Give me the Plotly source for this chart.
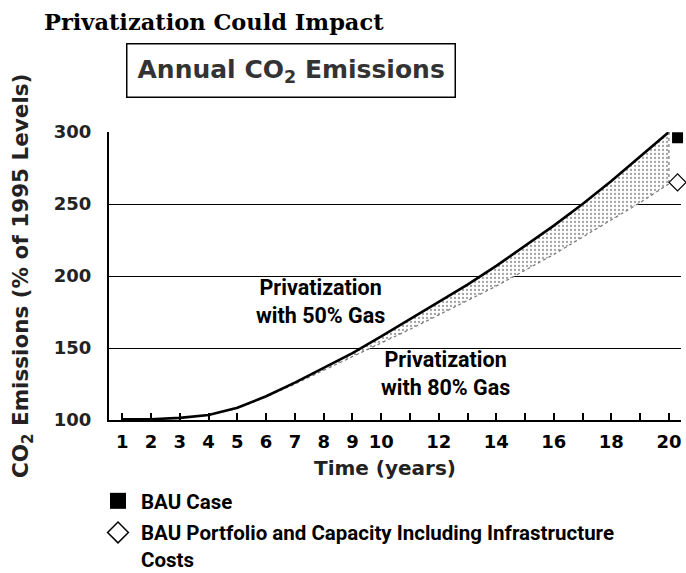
import plotly.graph_objects as go

# ---- data ----
years = list(range(1, 21))
priv_50_gas = [100.5, 100.5, 101.5, 103.5, 108.5, 116.5, 126, 136, 146.5, 158,
               170, 182, 194, 207, 221, 235, 250, 266, 283, 300]
priv_80_gas = [100.5, 100.5, 101.5, 103.5, 108, 116, 125, 134.5, 144, 153,
               163, 173, 183, 193, 204, 215, 227, 239, 251, 264]
bau_x = [20.3]
bau_case = [296]
bau_portfolio = [265]
x_tick_vals = years
x_tick_text = ["1", "2", "3", "4", "5", "6", "7", "8", "9", "10",
               "", "12", "", "14", "", "16", "", "18", "", "20"]
y_tick_vals = [100, 150, 200, 250, 300]

BOLD_SANS = "DejaVu Sans"
LABEL_FONT = "Roboto"

fig = go.Figure()

# lower curve (80% gas) – dotted grey line
fig.add_trace(go.Scatter(
    x=years, y=priv_80_gas, mode="lines",
    line=dict(color="#777777", width=1.2, dash="dot"),
    showlegend=False, hoverinfo="skip"))

# upper curve (50% gas) – thick black with stippled fill down to the lower curve
fig.add_trace(go.Scatter(
    x=years, y=priv_50_gas, mode="lines",
    line=dict(color="black", width=2.6),
    fill="tonexty",
    fillpattern=dict(shape=".", fgcolor="#444444", bgcolor="white",
                     size=4, solidity=0.25),
    showlegend=False, hoverinfo="skip"))

# closing dotted vertical at the end of the period
fig.add_trace(go.Scatter(
    x=[years[-1], years[-1]], y=[priv_50_gas[-1], priv_80_gas[-1]],
    mode="lines", line=dict(color="#777777", width=1.2, dash="dot"),
    showlegend=False, hoverinfo="skip"))

# BAU markers on the chart
fig.add_trace(go.Scatter(
    x=bau_x, y=bau_case, mode="markers",
    marker=dict(symbol="square", size=11, color="black"),
    showlegend=False, cliponaxis=False, hoverinfo="skip"))
fig.add_trace(go.Scatter(
    x=bau_x, y=bau_portfolio, mode="markers",
    marker=dict(symbol="diamond", size=13, color="white",
                line=dict(color="black", width=1.2)),
    showlegend=False, cliponaxis=False, hoverinfo="skip"))

# legend entries (larger glyphs, legend only)
fig.add_trace(go.Scatter(
    x=[None], y=[None], mode="markers", name="BAU Case",
    marker=dict(symbol="square", size=16, color="black"),
    legendgroup="a"))
fig.add_trace(go.Scatter(
    x=[None], y=[None], mode="markers",
    name="BAU Portfolio and Capacity Including Infrastructure<br>Costs",
    marker=dict(symbol="diamond", size=16, color="white",
                line=dict(color="black", width=1.5)),
    legendgroup="b"))

fig.update_layout(
    width=686, height=573,
    margin=dict(l=109, r=5, t=132, b=153, autoexpand=False),
    paper_bgcolor="white", plot_bgcolor="white",
    showlegend=True,
    legend=dict(
        xref="container", yref="container",
        x=95 / 686, y=1 - 481 / 573, xanchor="left", yanchor="top",
        orientation="v", valign="top",
        font=dict(family=LABEL_FONT, size=20.5, color="black", weight="bold"),
        itemwidth=36, tracegroupgap=2, bgcolor="rgba(0,0,0,0)",
        itemclick=False, itemdoubleclick=False),
    xaxis=dict(
        range=[0.538, 20.42],
        tickmode="array", tickvals=x_tick_vals, ticktext=x_tick_text,
        ticks="inside", ticklen=7, tickwidth=1.5, tickcolor="black",
        showline=True, linecolor="black", linewidth=2,
        showgrid=False, zeroline=False,
        ticklabelstandoff=4,
        tickfont=dict(family=BOLD_SANS, size=18, color="black", weight="bold")),
    yaxis=dict(
        range=[100, 300],
        tickmode="array", tickvals=y_tick_vals,
        ticks="", showline=True, linecolor="black", linewidth=2,
        showgrid=True, gridcolor="black", gridwidth=1.2,
        zeroline=False, ticklabelstandoff=12,
        tickfont=dict(family=BOLD_SANS, size=18, color="#222222", weight="bold")),
    annotations=[
        dict(text="Privatization Could Impact", xref="paper", yref="paper",
             x=-0.117, y=1.382, xanchor="left", yanchor="middle", showarrow=False,
             font=dict(family="DejaVu Serif", size=22.5, color="black", weight="bold")),
        dict(text="Annual CO<sub>2</sub> Emissions", xref="paper", yref="paper",
             x=0.318, y=1.215, xanchor="center", yanchor="middle", showarrow=False,
             bordercolor="black", borderwidth=1.5, borderpad=10,
             font=dict(family=BOLD_SANS, size=25, color="#333333", weight="bold")),
        dict(text="CO<sub>2</sub> Emissions (% of 1995 Levels)", xref="paper", yref="paper",
             x=-0.152, y=0.5, xanchor="center", yanchor="middle", textangle=-90,
             showarrow=False,
             font=dict(family=BOLD_SANS, size=21.5, color="#222222", weight="bold")),
        dict(text="Time (years)", xref="paper", yref="paper",
             x=0.4825, y=-0.167, xanchor="center", yanchor="middle", showarrow=False,
             font=dict(family=BOLD_SANS, size=20, color="#222222", weight="bold")),
        dict(text="Privatization<br>with 50% Gas", xref="x", yref="y",
             x=7.9, y=182, xanchor="center", yanchor="middle", showarrow=False,
             font=dict(family=LABEL_FONT, size=21.5, color="black", weight="bold")),
        dict(text="Privatization<br>with 80% Gas", xref="x", yref="y",
             x=12.22, y=132, xanchor="center", yanchor="middle", showarrow=False,
             font=dict(family=LABEL_FONT, size=21.5, color="black", weight="bold")),
    ],
)

fig.write_html("out.html",
               config={"displayModeBar": False},
               post_script="document.body.style.margin='0';"
                           "document.body.style.overflow='hidden';")
